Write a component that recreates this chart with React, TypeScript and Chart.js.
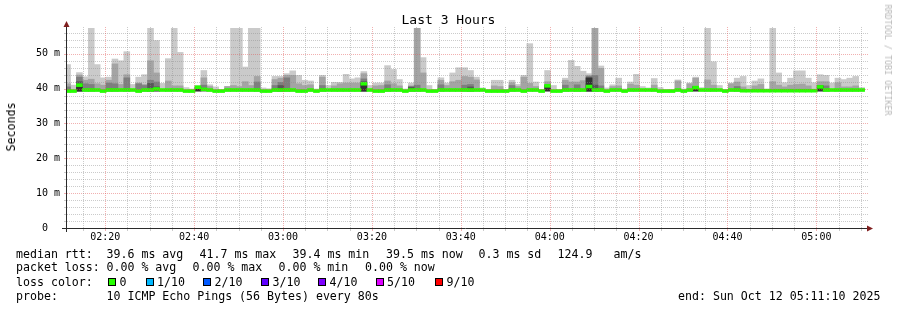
import React, { useEffect, useRef } from 'react';
import { Chart, registerables } from 'chart.js';
Chart.register(...registerables);

const _ = null;

// time grid (seconds after 02:11:10)
const START_CLOCK = 2 * 3600 + 11 * 60 + 10;
const SPAN = 10800;
const STEP = 80;
const FIRST_BAR_CENTER = 21;

// smoke values in milliseconds
const maxRtt = [
  46.9, 41.0, 44.6, 43.4, 57.4, 46.9, 43.1, 43.3, 48.5, 48.0,
  50.6, 41.2, 43.3, 44.0, 57.4, 53.8, 41.5, 48.6, 57.4, 50.4,
  40.3, 39.9, 40.9, 45.2, 41.1, 40.5, 39.8, 40.6, 57.4, 57.4,
  46.2, 57.4, 57.4, 40.2, 40.0, 43.5, 43.5, 44.3, 45.1, 43.8,
  42.4, 42.2, 39.9, 43.8, 40.9, 41.8, 41.8, 44.1, 42.8, 43.1,
  44.9, 40.9, 41.6, 41.6, 46.6, 45.5, 42.6, 39.9, 41.6, 57.4,
  48.9, 40.9, 39.8, 43.1, 41.6, 44.5, 46.0, 46.0, 45.2, 43.3,
  40.2, 39.8, 42.4, 42.4, 39.8, 42.4, 41.2, 43.8, 52.9, 41.9,
  39.8, 45.2, 40.9, 39.8, 43.0, 48.1, 46.4, 45.0, 44.3, 57.4,
  46.5, 40.2, 41.1, 43.0, 39.9, 41.9, 44.1, 40.6, 40.2, 42.9,
  40.3, 39.8, 39.8, 42.5, 39.9, 41.6, 43.3, 40.3, 57.4, 47.7,
  40.9, 39.8, 41.6, 43.0, 43.5, 40.9, 42.2, 42.8, 39.9, 57.4,
  44.5, 41.7, 43.0, 45.1, 45.1, 43.0, 41.7, 44.0, 43.8, 41.6,
  43.0, 42.6, 43.0, 43.5, 40.3,
];
const ping9 = [
  41.4, _, 43.9, 42.4, 42.7, 41.4, 41.0, 42.4, 47.1, 41.2,
  44.0, _, 41.6, 41.2, 48.0, 44.5, _, 42.2, 40.8, 40.8,
  _, _, 40.6, 43.1, 40.6, _, _, 40.6, 40.9, 40.6,
  42.0, 40.9, 43.5, _, _, 42.6, 43.0, 43.8, 43.8, 41.4,
  40.9, 41.1, _, 43.3, _, 40.8, 41.4, 41.6, 41.6, 41.6,
  44.3, _, 40.8, 40.9, 42.2, 41.4, 40.8, _, 40.8, 57.4,
  44.5, _, _, 42.4, 40.9, 42.0, 42.4, 43.5, 43.3, 42.5,
  _, _, 40.8, 40.6, _, 41.7, 40.6, 43.3, 41.5, 40.6,
  _, 42.0, _, _, 42.4, 41.9, 41.9, 42.3, 43.8, 57.4,
  45.8, _, 40.6, 40.8, _, 41.3, 41.0, _, _, 41.0,
  _, _, _, 42.2, _, 41.4, 43.0, _, 42.5, 41.0,
  _, _, 41.4, 41.9, 40.5, _, 40.8, 41.2, _, 42.0,
  41.0, 40.5, 41.0, 41.2, 41.3, 40.8, _, 42.0, 42.0, _,
  41.7, 40.5, 40.5, 40.8, _,
];
const ping8 = [
  40.5, _, 43.3, 41.4, 41.2, _, _, 41.6, 41.4, _,
  43.1, _, 41.4, 40.9, 42.4, 41.9, _, _, _, _,
  _, _, _, 41.0, _, _, _, _, _, _,
  _, _, 41.9, _, _, 40.9, 41.8, 43.1, _, _,
  _, _, _, 40.9, _, _, _, _, _, _,
  42.8, _, _, _, 41.1, _, _, _, _, 41.0,
  _, _, _, 41.1, _, _, _, 41.0, 41.2, _,
  _, _, _, _, _, 40.9, _, _, _, _,
  _, _, _, _, 41.0, _, 41.1, _, 43.5, 43.8,
  40.8, _, _, _, _, _, _, _, _, _,
  _, _, _, _, _, _, _, _, _, _,
  _, _, _, 40.6, _, _, _, _, _, _,
  _, _, _, _, _, _, _, _, 40.8, _,
  _, _, _, _, _,
];
const ping7 = [
  _, _, 42.0, _, _, _, _, _, _, _,
  _, _, _, _, 41.5, 40.5, _, _, _, _,
  _, _, _, _, _, _, _, _, _, _,
  _, _, _, _, _, _, 40.9, _, _, _,
  _, _, _, _, _, _, _, _, _, _,
  42.0, _, _, _, _, _, _, _, 40.5, _,
  _, _, _, _, _, _, _, _, 40.5, _,
  _, _, _, _, _, _, _, _, _, _,
  _, _, _, _, _, _, _, _, 43.2, 41.0,
  _, _, _, _, _, _, _, _, _, _,
  _, _, _, _, _, _, _, _, _, _,
  _, _, _, _, _, _, _, _, _, _,
  _, _, _, _, _, _, _, _, _, _,
  _, _, _, _, _,
];
const ping6 = [
  _, _, 41.2, _, _, _, _, _, _, _,
  _, _, _, _, _, _, _, _, _, _,
  _, _, 40.3, _, _, _, _, _, _, _,
  _, _, _, _, _, _, _, _, _, _,
  _, _, _, _, _, _, _, _, _, _,
  41.5, _, _, _, _, _, _, _, _, _,
  _, _, _, _, _, _, _, _, _, _,
  _, _, _, _, _, _, _, _, _, _,
  _, 40.9, _, _, _, _, _, _, 43.0, _,
  _, _, _, _, _, _, _, _, _, _,
  _, _, _, _, _, _, 40.6, _, _, _,
  _, _, _, _, _, _, _, _, _, _,
  _, _, _, _, _, _, _, 40.8, _, _,
  _, _, _, _, _,
];
const medianRtt = [
  39.3, 39.3, 41.0, 39.6, 39.6, 39.6, 39.3, 39.6, 39.6, 39.6,
  39.6, 39.6, 39.3, 39.6, 39.6, 39.9, 39.6, 39.6, 39.6, 39.6,
  39.3, 39.3, 40.4, 39.8, 39.6, 39.3, 39.3, 39.6, 39.6, 39.6,
  39.6, 39.6, 39.6, 39.3, 39.3, 39.6, 39.6, 39.6, 39.6, 39.3,
  39.3, 39.6, 39.3, 39.6, 39.6, 39.6, 39.6, 39.6, 39.6, 39.6,
  41.4, 39.6, 39.3, 39.3, 39.6, 39.6, 39.6, 39.3, 39.6, 39.6,
  39.6, 39.3, 39.3, 39.6, 39.6, 39.6, 39.6, 39.6, 39.6, 39.6,
  39.6, 39.3, 39.3, 39.3, 39.3, 39.6, 39.6, 39.3, 39.6, 39.6,
  39.3, 40.8, 39.3, 39.3, 39.6, 39.6, 39.6, 39.6, 40.6, 39.6,
  39.6, 39.3, 39.6, 39.6, 39.3, 39.6, 39.6, 39.6, 39.6, 39.6,
  39.3, 39.3, 39.3, 39.6, 39.3, 39.6, 40.3, 39.6, 39.6, 39.6,
  39.6, 39.3, 39.6, 39.6, 39.4, 39.4, 39.4, 39.4, 39.4, 39.4,
  39.4, 39.4, 39.4, 39.4, 39.4, 39.4, 39.4, 40.5, 39.6, 39.6,
  39.6, 39.6, 39.6, 39.6, 39.6,
];
const minRtt = [
  39.1, 39.1, 39.3, 39.3, 39.3, 39.3, 39.1, 39.3, 39.3, 39.3,
  39.3, 39.3, 39.1, 39.3, 39.3, 39.3, 39.3, 39.3, 39.3, 39.3,
  39.1, 39.1, 39.3, 39.3, 39.3, 39.1, 39.1, 39.3, 39.3, 39.3,
  39.3, 39.3, 39.3, 39.1, 39.1, 39.3, 39.3, 39.3, 39.3, 39.1,
  39.1, 39.3, 39.1, 39.3, 39.3, 39.3, 39.3, 39.3, 39.3, 39.3,
  39.3, 39.3, 39.1, 39.1, 39.3, 39.3, 39.3, 39.1, 39.3, 39.3,
  39.3, 39.1, 39.1, 39.3, 39.3, 39.3, 39.3, 39.3, 39.3, 39.3,
  39.3, 39.1, 39.1, 39.1, 39.1, 39.3, 39.3, 39.1, 39.3, 39.3,
  39.1, 39.3, 39.1, 39.1, 39.3, 39.3, 39.3, 39.3, 39.3, 39.3,
  39.3, 39.1, 39.3, 39.3, 39.1, 39.3, 39.3, 39.3, 39.3, 39.3,
  39.1, 39.1, 39.1, 39.3, 39.1, 39.3, 39.3, 39.3, 39.3, 39.3,
  39.3, 39.1, 39.3, 39.3, 39.2, 39.2, 39.2, 39.2, 39.2, 39.2,
  39.2, 39.2, 39.2, 39.2, 39.2, 39.2, 39.2, 39.3, 39.3, 39.3,
  39.3, 39.3, 39.3, 39.3, 39.3,
];

const Y_MAX = 57.4;
const yTickValues = [0, 2, 4, 6, 8, 10, 12, 14, 16, 18, 20, 22, 24, 26, 28, 30, 32, 34, 36, 38, 40, 42, 44, 46, 48, 50, 52, 54, 56];
const yLabelValues = [0, 10, 20, 30, 40, 50];
const xTickSeconds = [230, 530, 830, 1130, 1430, 1730, 2030, 2330, 2630, 2930, 3230, 3530, 3830, 4130, 4430, 4730, 5030, 5330, 5630, 5930, 6230, 6530, 6830, 7130, 7430, 7730, 8030, 8330, 8630, 8930, 9230, 9530, 9830, 10130, 10430, 10730];
const xLabelSeconds = [530, 1730, 2930, 4130, 5330, 6530, 7730, 8930, 10130];

const legendRtt = ['39.6 ms avg', '41.7 ms max', '39.4 ms min', '39.5 ms now', '0.3 ms sd'];
const legendLoss = ['0.00 % avg', '0.00 % max', '0.00 % min', '0.00 % now'];
const lossLabels = ['0', '1/10', '2/10', '3/10', '4/10', '5/10', '9/10'];
const lossColors = ['#26ff00', '#00b8ff', '#0059ff', '#5e00ff', '#7e00ff', '#dd00ff', '#ff0000'];

const MONO = '"DejaVu Sans Mono", monospace';
const MEDIAN_HALF = 0.42;
const GRID_MINOR = 'rgba(140,140,140,0.45)';
const GRID_MAJOR = 'rgba(225,80,80,0.45)';

const barTime = (i: number) => FIRST_BAR_CENTER + i * STEP;

function floating(hi: (number | null)[], lo: number[]) {
  const out: any[] = [];
  hi.forEach((v, i) => {
    if (v !== null && v !== undefined) out.push({ x: barTime(i), y: [lo[i], v] });
  });
  return out;
}

function clockLabel(sec: number) {
  const t = (START_CLOCK + sec) % 86400;
  const h = Math.floor(t / 3600);
  const m = Math.floor((t % 3600) / 60);
  return String(h).padStart(2, '0') + ':' + String(m).padStart(2, '0');
}

const gridPlugin = {
  id: 'rrdGrid',
  afterDatasetsDraw(chart: any) {
    const { ctx, chartArea } = chart;
    const { left, right, top, bottom } = chartArea;
    const xs = chart.scales.x;
    const ys = chart.scales.y;
    ctx.save();
    ctx.lineWidth = 1;
    ctx.setLineDash([1, 1]);
    yTickValues.forEach((v) => {
      if (v === 0) return;
      const y = Math.round(ys.getPixelForValue(v)) + 0.5;
      ctx.strokeStyle = v % 10 === 0 ? GRID_MAJOR : GRID_MINOR;
      ctx.beginPath();
      ctx.moveTo(left + 1, y);
      ctx.lineTo(right + 2, y);
      ctx.stroke();
    });
    xTickSeconds.forEach((v) => {
      const x = Math.round(xs.getPixelForValue(v)) + 0.5;
      ctx.strokeStyle = xLabelSeconds.includes(v) ? GRID_MAJOR : GRID_MINOR;
      ctx.beginPath();
      ctx.moveTo(x, bottom);
      ctx.lineTo(x, top - 1);
      ctx.stroke();
    });
    ctx.restore();
  },
};

const axesPlugin = {
  id: 'rrdAxes',
  afterDraw(chart: any) {
    const { ctx, chartArea } = chart;
    const { left, right, top, bottom } = chartArea;
    const xs = chart.scales.x;
    const ys = chart.scales.y;
    ctx.save();
    ctx.lineWidth = 1;
    yTickValues.forEach((v) => {
      if (v === 0) return;
      const y = Math.round(ys.getPixelForValue(v)) + 0.5;
      ctx.strokeStyle = v % 10 === 0 ? GRID_MAJOR : GRID_MINOR;
      ctx.beginPath();
      ctx.moveTo(left - 2, y);
      ctx.lineTo(left, y);
      ctx.stroke();
    });
    xTickSeconds.forEach((v) => {
      const x = Math.round(xs.getPixelForValue(v)) + 0.5;
      ctx.strokeStyle = xLabelSeconds.includes(v) ? GRID_MAJOR : GRID_MINOR;
      ctx.beginPath();
      ctx.moveTo(x, bottom);
      ctx.lineTo(x, bottom + 3);
      ctx.stroke();
    });
    ctx.strokeStyle = '#2a2a2a';
    ctx.beginPath();
    ctx.moveTo(left - 4, bottom + 0.5);
    ctx.lineTo(right + 3, bottom + 0.5);
    ctx.moveTo(left + 0.5, bottom + 4);
    ctx.lineTo(left + 0.5, top - 2);
    ctx.stroke();
    ctx.fillStyle = '#801f1f';
    ctx.beginPath();
    ctx.moveTo(right + 7, bottom + 0.5);
    ctx.lineTo(right + 1, bottom - 2.5);
    ctx.lineTo(right + 1, bottom + 3.5);
    ctx.closePath();
    ctx.fill();
    ctx.beginPath();
    ctx.moveTo(left + 0.5, top - 7);
    ctx.lineTo(left - 2.5, top - 1);
    ctx.lineTo(left + 3.5, top - 1);
    ctx.closePath();
    ctx.fill();
    ctx.restore();
  },
};

function RrdChart() {
  const ref = useRef<HTMLCanvasElement | null>(null);
  useEffect(() => {
    if (!ref.current) return;
    const common = {
      grouped: false,
      barPercentage: 1,
      categoryPercentage: 1,
      borderWidth: 0,
    };
    const chart = new Chart(ref.current, {
      type: 'bar',
      data: {
        datasets: [
          {
            ...common,
            label: 'median',
            data: medianRtt.map((m, i) => ({ x: barTime(i), y: [m - MEDIAN_HALF, m + MEDIAN_HALF] })),
            backgroundColor: '#26ff00',
          },
          { ...common, label: 'p6', data: floating(ping6, minRtt), backgroundColor: '#323232' },
          { ...common, label: 'p7', data: floating(ping7, minRtt), backgroundColor: '#585858' },
          { ...common, label: 'p8', data: floating(ping8, minRtt), backgroundColor: '#7e7e7e' },
          { ...common, label: 'p9', data: floating(ping9, minRtt), backgroundColor: '#a4a4a4' },
          { ...common, label: 'max', data: floating(maxRtt, minRtt), backgroundColor: '#cacaca' },
        ] as any,
      },
      options: {
        responsive: false,
        animation: false,
        events: [],
        layout: { padding: { top: 28, right: 31, left: 0, bottom: 0 } },
        plugins: { legend: { display: false }, title: { display: false }, tooltip: { enabled: false } },
        scales: {
          x: {
            type: 'linear',
            position: 'bottom',
            min: 0,
            max: SPAN,
            offset: false,
            afterBuildTicks: (s: any) => {
              s.ticks = xTickSeconds.map((v) => ({ value: v }));
            },
            afterFit: (s: any) => {
              s.height = 82;
            },
            grid: { display: false, offset: false, drawTicks: false },
            border: { display: false },
            ticks: {
              autoSkip: false,
              maxRotation: 0,
              minRotation: 0,
              padding: 3,
              color: '#000',
              font: { family: MONO, size: 10 },
              callback: (v: any) => (xLabelSeconds.includes(v) ? clockLabel(v) : ''),
            },
          },
          y: {
            type: 'linear',
            min: 0,
            max: Y_MAX,
            afterBuildTicks: (s: any) => {
              s.ticks = yTickValues.map((v) => ({ value: v }));
            },
            afterFit: (s: any) => {
              s.width = 66;
            },
            grid: { display: false, drawTicks: false },
            border: { display: false },
            ticks: {
              autoSkip: false,
              padding: 6,
              color: '#000',
              font: { family: MONO, size: 10 },
              callback: (v: any) => (yLabelValues.includes(v) ? (v === 0 ? '0  ' : `${v} m`) : ''),
            },
          },
        },
      } as any,
      plugins: [gridPlugin, axesPlugin],
    });
    return () => chart.destroy();
  }, []);
  return <canvas ref={ref} width={897} height={310} style={{ position: 'absolute', left: 0, top: 0, width: 897, height: 310 }} />;
}

const txt = (left: number, top: number, s: string, extra: any = {}) => (
  <div
    style={{
      position: 'absolute',
      left,
      top,
      font: `11.6px ${MONO}`,
      lineHeight: '14px',
      whiteSpace: 'pre',
      color: '#000',
      ...extra,
    }}
  >
    {s}
  </div>
);

export default function App() {
  const L1 = 246.7;
  const L2 = 260.4;
  const L3 = 274.8;
  const L4 = 289;
  const rttX = [106.5, 199.5, 292.5, 386, 478.5];
  const lossX = [106.5, 192.5, 278.5, 365];
  const sqX = [108, 145.5, 203, 261, 318, 375.5, 435];
  return (
    <div style={{ position: 'absolute', left: 0, top: 0, width: 897, height: 310, background: '#fff', overflow: 'hidden' }}>
      <RrdChart />
      <div
        style={{
          position: 'absolute',
          left: 0,
          top: 12,
          width: 897,
          textAlign: 'center',
          font: `13px ${MONO}`,
          lineHeight: '15px',
          color: '#000',
        }}
      >
        Last 3 Hours
      </div>
      <div
        style={{
          position: 'absolute',
          left: 11,
          top: 127,
          transform: 'translate(-50%,-50%) rotate(-90deg)',
          font: `11.6px ${MONO}`,
          lineHeight: '14px',
          whiteSpace: 'nowrap',
          color: '#000',
        }}
      >
        Seconds
      </div>
      <div
        style={{
          position: 'absolute',
          left: 888,
          top: 60,
          transform: 'translate(-50%,-50%) rotate(90deg)',
          font: `8.4px ${MONO}`,
          lineHeight: '10px',
          whiteSpace: 'nowrap',
          color: '#b8b8b8',
        }}
      >
        RRDTOOL / TOBI OETIKER
      </div>
      {txt(16, L1, 'median rtt:')}
      {legendRtt.map((s, i) => <React.Fragment key={'r' + i}>{txt(rttX[i], L1, s)}</React.Fragment>)}
      {txt(557.5, L1, '124.9')}
      {txt(613.5, L1, 'am/s')}
      {txt(16, L2, 'packet loss:')}
      {legendLoss.map((s, i) => <React.Fragment key={'l' + i}>{txt(lossX[i], L2, s)}</React.Fragment>)}
      {txt(16, L3, 'loss color:')}
      {lossLabels.map((s, i) => (
        <React.Fragment key={'c' + i}>
          <div
            style={{
              position: 'absolute',
              left: sqX[i],
              top: 278,
              width: 6,
              height: 6,
              border: '1px solid #000',
              background: lossColors[i],
            }}
          />
          {txt(sqX[i] + 11.5, L3, s)}
        </React.Fragment>
      ))}
      {txt(16, L4, 'probe:')}
      {txt(106.5, L4, '10 ICMP Echo Pings (56 Bytes) every 80s')}
      {txt(678, L4, 'end: Sun Oct 12 05:11:10 2025')}
    </div>
  );
}
